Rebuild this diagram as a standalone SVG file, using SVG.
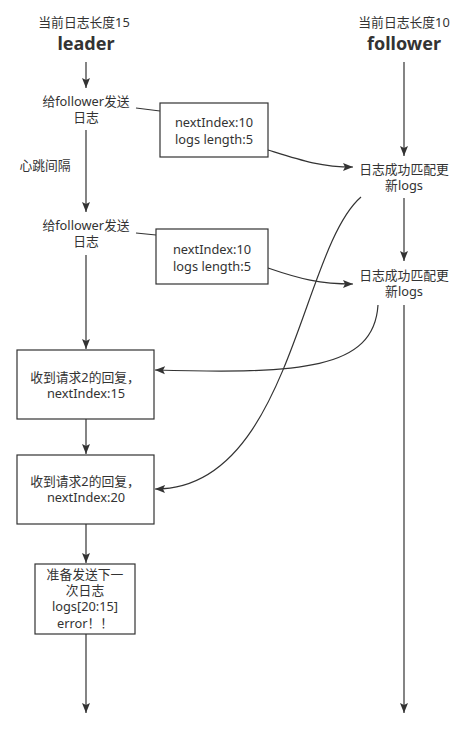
<svg xmlns="http://www.w3.org/2000/svg" width="459" height="735" viewBox="0 0 459 735">
<style>
text{font-family:"Noto Sans","Noto Sans CJK SC",sans-serif;font-size:12.8px;fill:#333;text-anchor:middle}
.h{font-size:18px;font-weight:bold}
.box{fill:#fff;stroke:#333;stroke-width:1.2}
.c{fill:none;stroke:#333;stroke-width:1.2}
.a{marker-end:url(#arr)}
</style>
<defs>
<marker id="arr" markerUnits="userSpaceOnUse" markerWidth="11" markerHeight="9" viewBox="0 0 11 9" refX="10" refY="4.5" orient="auto">
<path d="M0,0.5 L10,4.5 L0,8.5 L2,4.5 z" fill="#333"/>
</marker>
</defs>
<rect width="459" height="735" fill="#fff"/>
<g id="connectors">
<path class="c a" d="M86,62 L86,88"/>
<path class="c a" d="M86,130 L86,212"/>
<path class="c a" d="M86,255 L86,349"/>
<path class="c a" d="M86,419 L86,454"/>
<path class="c a" d="M86,524 L86,563"/>
<path class="c a" d="M86,634 L86,713"/>
<path class="c a" d="M404,62 L404,156"/>
<path class="c a" d="M404,198 L404,261"/>
<path class="c a" d="M404,305 L404,713"/>
<path class="c" d="M136,108 L160,111"/>
<path class="c" d="M136,233 L156,235"/>
<path class="c a" d="M268,150 C300,160 320,167 353,167"/>
<path class="c a" d="M268,268 C300,279 320,284 353,284"/>
<path class="c a" d="M378,305 C374,370 300,374 155,370"/>
<path class="c a" d="M361,197 C300,250 290,490 155,489"/>
</g>
<g id="leader-title">
<text x="84" y="26.5">当前日志长度15</text>
<text class="h" x="86" y="49.5">leader</text>
</g>
<g id="follower-title">
<text x="404" y="26.5">当前日志长度10</text>
<text class="h" x="404" y="49.5">follower</text>
</g>
<g id="send1">
<text x="86" y="106">给follower发送</text>
<text x="86" y="122">日志</text>
</g>
<g id="heartbeat">
<text x="45" y="169.5">心跳间隔</text>
</g>
<g id="send2">
<text x="86" y="230">给follower发送</text>
<text x="86" y="246">日志</text>
</g>
<g id="req1">
<rect class="box" x="160" y="103" width="108" height="54"/>
<text x="214" y="126.5">nextIndex:10</text>
<text x="214" y="143.5">logs length:5</text>
</g>
<g id="req2">
<rect class="box" x="156" y="229" width="112" height="55"/>
<text x="212" y="253.5">nextIndex:10</text>
<text x="212" y="270.5">logs length:5</text>
</g>
<g id="match1">
<text x="404" y="173.5">日志成功匹配更</text>
<text x="404" y="189.5">新logs</text>
</g>
<g id="match2">
<text x="404" y="279.5">日志成功匹配更</text>
<text x="404" y="296">新logs</text>
</g>
<g id="reply1">
<rect class="box" x="17" y="350" width="137" height="69"/>
<text x="85" y="381.5">收到请求2的回复，</text>
<text x="86" y="397.5">nextIndex:15</text>
</g>
<g id="reply2">
<rect class="box" x="17" y="455" width="137" height="69"/>
<text x="85" y="485.5">收到请求2的回复，</text>
<text x="86" y="501.5">nextIndex:20</text>
</g>
<g id="next">
<rect class="box" x="35" y="564" width="100" height="70"/>
<text x="85" y="578.5">准备发送下一</text>
<text x="85" y="594.5">次日志</text>
<text x="85" y="611">logs[20:15]</text>
<text x="85" y="627.5">error！！</text>
</g>
</svg>
